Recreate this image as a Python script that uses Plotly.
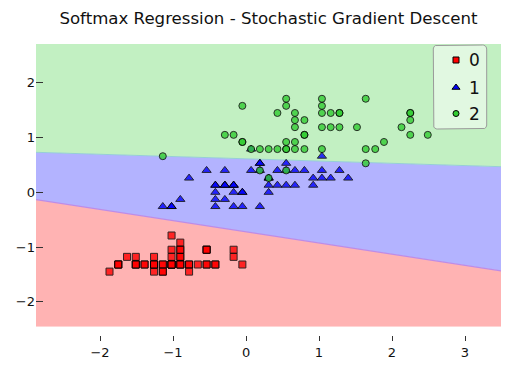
import math
import plotly.graph_objects as go

# Standardized Iris features: sepal length (x) vs petal width (y)
# class 0
x0 = [-0.90, -1.14, -1.39, -1.51, -1.02, -0.54, -1.51, -1.02, -1.75, -1.14,
      -0.54, -1.26, -1.26, -1.87, -0.05, -0.17, -0.54, -0.90, -0.17, -0.90,
      -0.54, -0.90, -1.51, -0.90, -1.26, -1.02, -1.02, -0.78, -0.78, -1.39,
      -1.26, -0.54, -0.78, -0.42, -1.14, -1.02, -0.42, -1.14, -1.75, -0.90,
      -1.02, -1.63, -1.75, -1.02, -0.90, -1.26, -0.90, -1.51, -0.66, -1.02]
y0 = [-1.32, -1.32, -1.32, -1.32, -1.32, -1.05, -1.18, -1.32, -1.32, -1.45,
      -1.32, -1.32, -1.45, -1.45, -1.32, -1.05, -1.05, -1.18, -1.18, -1.18,
      -1.32, -1.05, -1.32, -0.92, -1.32, -1.32, -1.05, -1.32, -1.32, -1.32,
      -1.32, -1.05, -1.45, -1.32, -1.32, -1.32, -1.32, -1.45, -1.32, -1.32,
      -1.18, -1.18, -1.32, -0.79, -1.05, -1.18, -1.32, -1.32, -1.32, -1.32]
# class 1
x1 = [1.40, 0.67, 1.28, -0.42, 0.80, -0.17, 0.55, -1.14, 0.92, -0.78,
      -1.02, 0.07, 0.19, 0.31, -0.29, 1.04, -0.29, -0.05, 0.43, -0.29,
      0.07, 0.31, 0.55, 0.31, 0.67, 0.92, 1.16, 1.04, 0.19, -0.17,
      -0.42, -0.42, -0.05, 0.19, -0.54, 0.19, 1.04, 0.55, -0.29, -0.42,
      -0.42, 0.31, -0.05, -1.02, -0.29, -0.17, -0.17, 0.43, -0.90, -0.17]
y1 = [0.26, 0.40, 0.40, 0.13, 0.40, 0.13, 0.53, -0.26, 0.13, 0.26,
      -0.26, 0.40, -0.26, 0.26, 0.13, 0.26, 0.40, -0.26, 0.40, -0.13,
      0.79, 0.13, 0.40, 0.00, 0.13, 0.26, 0.26, 0.66, 0.40, -0.26,
      -0.13, -0.26, 0.00, 0.53, 0.40, 0.53, 0.40, 0.13, 0.13, 0.13,
      0.00, 0.26, 0.00, -0.26, 0.13, 0.00, 0.13, 0.13, -0.13, 0.13]
# class 2
x2 = [0.55, -0.05, 1.52, 0.55, 0.80, 2.13, -1.14, 1.77, 1.04, 1.64,
      0.80, 0.67, 1.16, -0.17, -0.05, 0.67, 0.80, 2.25, 2.25, 0.19,
      1.28, -0.29, 2.25, 0.55, 1.04, 1.64, 0.43, 0.31, 0.67, 1.64,
      1.89, 2.49, 0.67, 0.55, 0.31, 2.25, 0.55, 0.67, 0.19, 1.28,
      1.04, 1.28, -0.05, 1.16, 1.04, 1.04, 0.55, 0.80, 0.43, 0.07]
y2 = [1.71, 0.92, 1.19, 0.79, 1.32, 1.19, 0.66, 0.79, 0.79, 1.71,
      1.05, 0.92, 1.19, 1.05, 1.58, 1.45, 0.79, 1.32, 1.45, 0.40,
      1.45, 1.05, 1.05, 0.79, 1.19, 0.79, 0.79, 0.79, 1.19, 0.53,
      0.92, 1.05, 1.32, 0.40, 0.26, 1.45, 1.58, 0.79, 0.79, 1.19,
      1.58, 1.45, 0.92, 1.45, 1.71, 1.45, 0.92, 1.05, 1.45, 0.79]

class_labels = ["0", "1", "2"]
x_range = [-2.877, 3.493]
y_range = [-2.457, 2.711]
x_ticks = [-2, -1, 0, 1, 2, 3]
y_ticks = [-2, -1, 0, 1, 2]

# decision boundaries read at the left / right edges of the plot
bnd_x = [-2.877, 3.493]
bnd_upper = [0.731, 0.468]    # between class 1 and class 2
bnd_lower = [-0.135, -1.435]  # between class 0 and class 1

region_colors = ["rgb(255,179,179)", "rgb(179,179,255)", "rgb(194,240,194)"]
marker_colors = ["rgb(255,0,0)", "rgb(0,0,255)", "rgb(50,205,50)"]
symbols = ["square", "triangle-up", "circle"]
sizes = [7, 8, 7]

# ---- layout geometry (figure pixels; page body adds an 8px offset) ----
W, H = 503, 362
ML, MR, MT, MB = 28, 10, 36, 35
PW, PH = W - ML - MR, H - MT - MB
Y_DOM0 = 8.3 / PH

fig = go.Figure()

xa, xb = bnd_x
poly_x = [xa, xb, xb, xa, xa]
regions = [
    [bnd_lower[0], bnd_lower[1], y_range[0], y_range[0], bnd_lower[0]],
    [bnd_lower[0], bnd_lower[1], bnd_upper[1], bnd_upper[0], bnd_lower[0]],
    [bnd_upper[0], bnd_upper[1], y_range[1], y_range[1], bnd_upper[0]],
]
for ry, col in zip(regions, region_colors):
    fig.add_trace(go.Scatter(x=poly_x, y=ry, mode="lines", fill="toself",
                             fillcolor=col, line=dict(width=0, color=col),
                             hoverinfo="skip", showlegend=False))

fig.add_trace(go.Scatter(x=bnd_x, y=bnd_upper, mode="lines",
                         line=dict(color="rgb(150,205,215)", width=1),
                         hoverinfo="skip", showlegend=False))
fig.add_trace(go.Scatter(x=bnd_x, y=bnd_lower, mode="lines",
                         line=dict(color="rgb(190,140,230)", width=1.2),
                         hoverinfo="skip", showlegend=False))

for xs, ys, lab, c, s, sz in zip([x0, x1, x2], [y0, y1, y2], class_labels,
                                 marker_colors, symbols, sizes):
    fig.add_trace(go.Scatter(x=xs, y=ys, mode="markers", name=lab,
                             showlegend=False,
                             marker=dict(color=c, symbol=s, size=sz, opacity=0.8,
                                         line=dict(color="black", width=1))))

# ---- custom legend (rounded box) on an overlay axis in paper units ----
def px_to_paper_x(px):
    return (px - ML) / PW

def px_to_paper_y(py):
    return 1 - (py - MT) / PH

bx0, bx1 = px_to_paper_x(425.3), px_to_paper_x(478.7)
by1, by0 = px_to_paper_y(37), px_to_paper_y(121)
rad = 4.0
rx, ry_ = rad / PW, rad / PH
box_x, box_y = [], []
corners = [(bx1 - rx, by1 - ry_, 0), (bx0 + rx, by1 - ry_, 90),
           (bx0 + rx, by0 + ry_, 180), (bx1 - rx, by0 + ry_, 270)]
for cx, cy, a0 in corners:
    for k in range(7):
        a = math.radians(a0 + k * 15)
        box_x.append(cx + rx * math.cos(a))
        box_y.append(cy + ry_ * math.sin(a))
box_x.append(box_x[0])
box_y.append(box_y[0])
fig.add_trace(go.Scatter(x=box_x, y=box_y, xaxis="x2", yaxis="y2", mode="lines",
                         fill="toself", fillcolor="rgba(255,255,255,0.5)",
                         line=dict(color="#9a9a9a", width=1),
                         hoverinfo="skip", showlegend=False))

leg_mx = px_to_paper_x(448)
leg_tx = px_to_paper_x(459)
leg_rows = [px_to_paper_y(52), px_to_paper_y(79.5), px_to_paper_y(105.5)]
for lab, c, s, sz, ly in zip(class_labels, marker_colors, symbols, sizes, leg_rows):
    fig.add_trace(go.Scatter(x=[leg_mx], y=[ly], xaxis="x2", yaxis="y2",
                             mode="markers", showlegend=False, hoverinfo="skip",
                             marker=dict(color=c, symbol=s, size=sz - 1,
                                         line=dict(color="black", width=1))))
    fig.add_annotation(x=leg_tx, y=ly, xref="paper", yref="paper", text=lab,
                       showarrow=False, xanchor="left", yanchor="middle",
                       font=dict(family="DejaVu Sans", size=17, color="#111"))

fig.update_layout(
    width=W, height=H,
    margin=dict(l=ML, r=MR, t=MT, b=MB, autoexpand=False),
    paper_bgcolor="white", plot_bgcolor="white",
    font=dict(family="DejaVu Sans", size=13, color="#111"),
    showlegend=False,
    title=dict(text="Softmax Regression - Stochastic Gradient Descent",
               x=0.5, xref="paper", xanchor="center",
               y=1 - 10.5 / H, yref="container", yanchor="middle",
               font=dict(family="DejaVu Sans", size=16.6, color="#111")),
    xaxis=dict(range=x_range, tickvals=x_ticks, ticks="outside", ticklen=5,
               tickcolor="#333", tickwidth=1, showgrid=False, zeroline=False,
               showline=False, anchor="free", position=0, domain=[0, 1],
               automargin=False),
    yaxis=dict(range=y_range, tickvals=y_ticks, ticks="inside", ticklen=7,
               tickcolor="#333", tickwidth=1, showgrid=False, zeroline=False,
               showline=False, domain=[Y_DOM0, 1], automargin=False),
    xaxis2=dict(overlaying="x", range=[0, 1], visible=False, domain=[0, 1]),
    yaxis2=dict(overlaying="y", range=[Y_DOM0, 1], visible=False),
)

fig.write_html("out.html")
